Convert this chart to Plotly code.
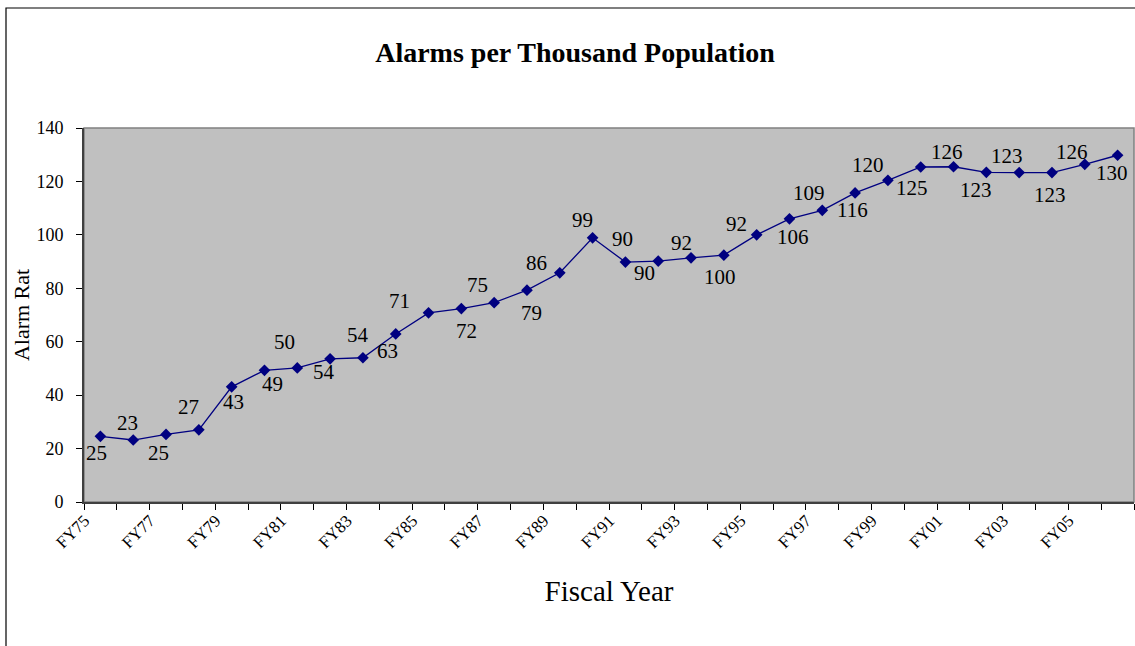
import plotly.graph_objects as go

# ---- data ----
categories = ["FY75", "FY76", "FY77", "FY78", "FY79", "FY80", "FY81", "FY82",
              "FY83", "FY84", "FY85", "FY86", "FY87", "FY88", "FY89", "FY90",
              "FY91", "FY92", "FY93", "FY94", "FY95", "FY96", "FY97", "FY98",
              "FY99", "FY00", "FY01", "FY02", "FY03", "FY04", "FY05", "FY06"]
alarm_rate = [24.6, 23.2, 25.3, 27.0, 43.1, 49.3, 50.2, 53.6,
              54.0, 62.9, 70.8, 72.4, 74.6, 79.3, 85.8, 98.9,
              89.8, 90.2, 91.4, 92.4, 100.0, 106.0, 109.2, 115.7,
              120.4, 125.4, 125.5, 123.4, 123.3, 123.3, 126.4, 129.8]
label_text = ["25", "23", "25", "27", "43", "49", "50", "54",
              "54", "63", "71", "72", "75", "79", "86", "99",
              "90", "90", "92", "100", "92", "106", "109", "116",
              "120", "125", "126", "123", "123", "123", "126", "130"]
y_ticks = [0, 20, 40, 60, 80, 100, 120, 140]

# ---- label placement (style, pixel offsets) ----
label_dx = [-4, -6, -8, -10, 2, 8, -13, -6, -5, -8, -29, 5, -17, 5, -23, -10,
            -3, -14, -10, -4, -20, 4, -13, -3, -20, -9, -7, -10, -12, -2, -13, -6]
label_dy = [17, -17, 19, -23, 15, 14, -26, 13, -23, 17, -12, 22, -18, 23, -10, -18,
            -23, 12, -15, 22, -11, 18, -17, 17, -15, 21, -15, 18, -17, 22, -12, 18]

FONT = "Liberation Serif, Times New Roman, serif"
NAVY = "#000080"

idx = list(range(len(categories)))
label_idx = idx[::2]

fig = go.Figure()
fig.add_trace(go.Scatter(
    x=idx, y=alarm_rate, mode="lines+markers",
    line=dict(color=NAVY, width=1.3),
    marker=dict(symbol="diamond", size=9, color=NAVY),
    hoverinfo="skip", showlegend=False,
))

annotations = []
for i, (v, t) in enumerate(zip(alarm_rate, label_text)):
    annotations.append(dict(
        x=i, y=v, xref="x", yref="y", text=t, showarrow=False,
        xshift=label_dx[i], yshift=-label_dy[i],
        font=dict(family=FONT, size=21, color="black"),
        xanchor="center", yanchor="middle",
    ))

fig.update_layout(
    width=1135, height=646,
    margin=dict(l=84, r=1, t=128, b=144),
    paper_bgcolor="white", plot_bgcolor="#C0C0C0",
    title=dict(text="<b>Alarms per Thousand Population</b>",
               font=dict(family=FONT, size=28, color="black"),
               x=0.5066, xref="container", xanchor="center",
               y=1 - 52 / 646, yref="container", yanchor="middle"),
    annotations=annotations,
    xaxis=dict(
        range=[-0.5, len(categories) - 0.5],
        tickmode="array", tickvals=label_idx,
        ticktext=[categories[i] for i in label_idx],
        tickangle=-45, ticks="", showgrid=False, zeroline=False,
        ticklabelshift=-16, ticklabelstandoff=0,
        tickfont=dict(family=FONT, size=17, color="black"),
        showline=True, linecolor="#404040", linewidth=2,
        minor=dict(tickmode="array",
                   tickvals=[i - 0.5 for i in range(len(categories) + 1)],
                   ticks="outside", ticklen=6, tickwidth=1, tickcolor="black",
                   showgrid=False),
        title=dict(text="Fiscal Year", font=dict(family=FONT, size=29, color="black"),
                   standoff=30),
    ),
    yaxis=dict(
        range=[0, 140], tickmode="array", tickvals=y_ticks,
        ticks="outside", ticklen=6, tickcolor="black", showgrid=False,
        zeroline=False, ticklabelstandoff=9,
        tickfont=dict(family=FONT, size=18, color="black"),
        showline=True, linecolor="#404040", linewidth=2,
        title=dict(text="Alarm Rat", font=dict(family=FONT, size=22, color="black"),
                   standoff=1),
    ),
    shapes=[
        dict(type="rect", xref="x domain", yref="y domain", x0=0, x1=1, y0=0, y1=1,
             line=dict(color="#808080", width=1.5), layer="below"),
        dict(type="rect", xref="paper", yref="paper",
             x0=(6 - 84) / 1050, x1=1.1, y0=-0.5, y1=(502 - 8) / 374,
             line=dict(color="black", width=1.2), layer="below"),
    ],
)

fig.write_html("out.html", config={"displayModeBar": False},
               post_script="document.body.style.margin='0';document.body.style.overflow='hidden';")
